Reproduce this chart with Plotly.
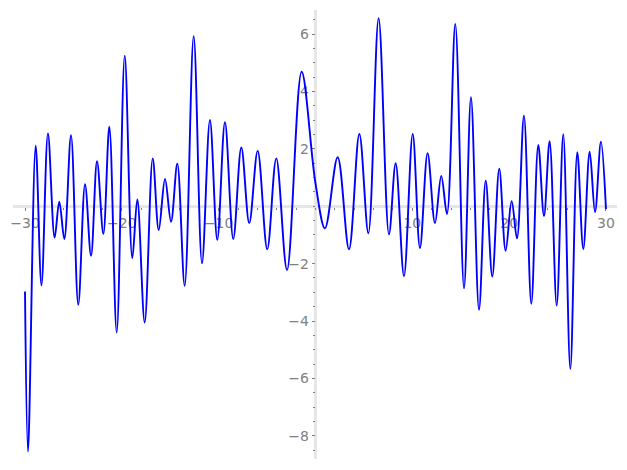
import plotly.graph_objects as go

# curve: local extrema (x, y) in order, joined with a spline
x_pts = [-30.0, -29.69, -28.9, -28.3, -27.63, -26.94, -26.46, -25.94, -25.25, -24.5,
         -23.8, -23.18, -22.56, -21.91, -21.29, -20.53, -19.7, -18.92, -18.4, -17.64,
         -16.81, -16.19, -15.54, -14.92, -14.27, -13.51, -12.58, -11.72, -10.9, -10.14,
         -9.35, -8.49, -7.66, -6.84, -5.97, -4.98, -4.05, -2.94, -1.43, 0.0,
         0.98, 2.29, 3.46, 4.53, 5.46, 6.52, 7.59, 8.28, 9.14, 10.04,
         10.79, 11.58, 12.34, 12.99, 13.58, 14.44, 15.34, 16.06, 16.89, 17.58,
         18.26, 18.98, 19.64, 20.26, 20.81, 21.53, 22.29, 23.01, 23.6, 24.18,
         24.91, 25.59, 26.32, 27.04, 27.66, 28.32, 28.87, 29.48, 30.0]
y_pts = [-2.97, -8.55, 2.11, -2.76, 2.54, -1.09, 0.16, -1.14, 2.48, -3.43,
         0.77, -1.73, 1.57, -0.96, 2.77, -4.4, 5.25, -1.81, 0.24, -4.05,
         1.67, -0.83, 0.95, -0.54, 1.48, -2.77, 5.93, -1.99, 3.01, -1.17,
         2.93, -1.14, 2.05, -0.59, 1.93, -1.5, 1.67, -2.22, 4.69, 0.8,
         -0.77, 1.71, -1.5, 2.52, -0.94, 6.55, -0.98, 1.5, -2.43, 2.52,
         -1.46, 1.85, -0.59, 1.06, -0.27, 6.35, -2.86, 3.8, -3.61, 0.89,
         -2.45, 1.31, -1.55, 0.18, -1.12, 3.16, -3.4, 2.14, -0.34, 2.27,
         -3.46, 2.51, -5.67, 1.88, -1.49, 1.9, -0.21, 2.25, -0.1]

# tick labels (zero is left out, like the original)
x_ticks = [-30, -20, -10, 10, 20, 30]
x_labels = ["\u221230", "\u221220", "\u221210", "10", "20", "30"]
y_ticks = [-8, -6, -4, -2, 2, 4, 6]
y_labels = ["\u22128", "\u22126", "\u22124", "\u22122", "2", "4", "6"]

x_range = [-31.24, 31.14]
y_range = [-8.81, 6.84]

axis_gray = "rgb(230,230,230)"
tick_gray = "rgb(128,128,128)"


def make_fig():
    fig = go.Figure()
    fig.add_trace(go.Scatter(x=x_pts, y=y_pts, mode="lines",
                             line=dict(color="#0000ff", width=1.9, shape="spline", smoothing=1.0),
                             hoverinfo="skip"))

    # axes cross at the origin, so place each one where the other is zero
    x_at = (0 - y_range[0]) / (y_range[1] - y_range[0])
    y_at = (0 - x_range[0]) / (x_range[1] - x_range[0])

    # page body adds an 8px margin, so the figure is a bit smaller than the window
    fig.update_layout(
        width=619, height=462,
        margin=dict(l=5, r=10, t=2, b=11),
        paper_bgcolor="white", plot_bgcolor="white",
        showlegend=False,
        font=dict(family="DejaVu Sans", size=14, color=tick_gray),
        xaxis=dict(range=x_range, anchor="free", position=x_at, showgrid=False, zeroline=False,
                   automargin=False,
                   showline=True, linecolor=axis_gray, linewidth=2.5, layer="below traces",
                   tickmode="array", tickvals=x_ticks, ticktext=x_labels,
                   ticks="outside", ticklen=3, tickwidth=1, tickcolor=tick_gray,
                   minor=dict(tickmode="linear", tick0=0, dtick=2, ticks="outside",
                              ticklen=2, tickcolor=tick_gray, showgrid=False)),
        yaxis=dict(range=y_range, anchor="free", position=y_at, showgrid=False, zeroline=False,
                   automargin=False,
                   showline=True, linecolor=axis_gray, linewidth=2.5, layer="below traces",
                   tickmode="array", tickvals=y_ticks, ticktext=y_labels,
                   ticks="outside", ticklen=3, tickwidth=1, tickcolor=tick_gray,
                   minor=dict(tickmode="linear", tick0=0, dtick=0.5, ticks="outside",
                              ticklen=2, tickcolor=tick_gray, showgrid=False)),
    )
    return fig


fig = make_fig()
fig.write_html("out.html")
